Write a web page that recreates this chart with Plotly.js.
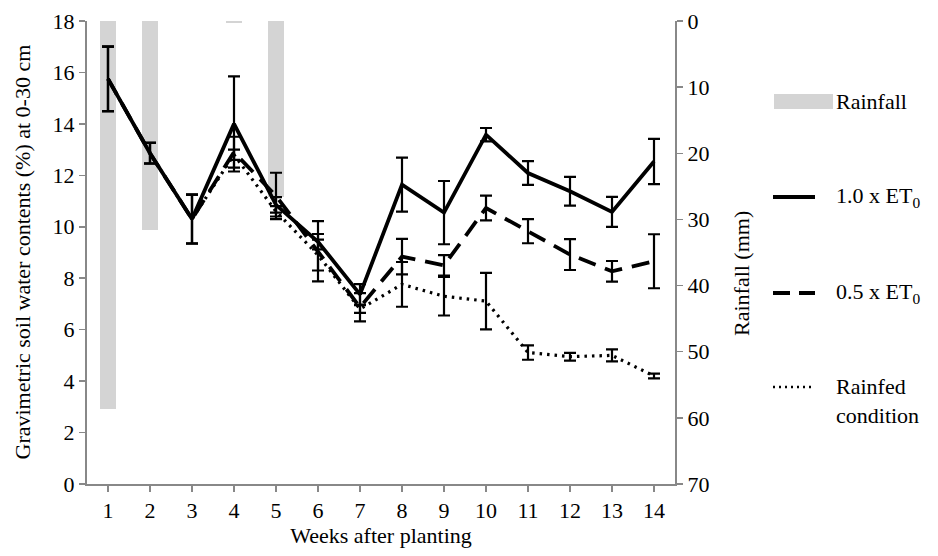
<!DOCTYPE html>
<html>
<head>
<meta charset="utf-8">
<script src="https://cdn.plot.ly/plotly-3.0.1.min.js"></script>
<style>html,body{margin:0;padding:0;background:#fff;}#chart{width:938px;height:556px;}</style>
</head>
<body>
<div id="chart"></div>
<script>
var weeks = [1,2,3,4,5,6,7,8,9,10,11,12,13,14];
var rainfall = [58.6,31.6,0,0.3,26.6,0,0,0,0,0,0,0,0,0];
var et10 = [15.75,12.86,10.3,14.0,10.85,9.42,7.37,11.64,10.55,13.58,12.09,11.38,10.58,12.54];
var et10Err = [1.25,0.4,0.95,1.85,0.3,0.3,0.4,1.05,1.23,0.26,0.46,0.56,0.58,0.88];
var et05 = [15.75,12.86,10.3,12.9,11.2,9.05,6.87,8.84,8.5,10.73,9.83,8.92,8.27,8.66];
var et05Err = [1.25,0.4,0.95,0.6,0.9,1.17,0.55,0.69,0.4,0.48,0.47,0.6,0.4,1.05];
var rainfed = [15.75,12.86,10.3,12.8,10.6,8.9,6.8,7.76,7.3,7.11,5.11,4.95,5.0,4.2];
var rainfedErr = [1.25,0.4,0.95,0.2,0.2,0.6,0.15,0.87,0.75,1.1,0.28,0.15,0.23,0.09];
var legendLabels = ['Rainfall','1.0 x ET<sub>0</sub>','0.5 x ET<sub>0</sub>','Rainfed<br>condition'];

var traces = [
  {type:'bar', x:weeks, y:rainfall, base:0, width:0.38, yaxis:'y', marker:{color:'#d4d4d4'}, showlegend:false, hoverinfo:'skip'},
  {type:'scatter', mode:'lines', x:weeks, y:rainfed, yaxis:'y2', line:{color:'#000',width:3.2,dash:'2.5px,5px'},
   error_y:{type:'data',array:rainfedErr,visible:true,color:'#000',thickness:2.2,width:6}, showlegend:false},
  {type:'scatter', mode:'lines', x:weeks, y:et05, yaxis:'y2', line:{color:'#000',width:3.8,dash:'18px,10px'},
   error_y:{type:'data',array:et05Err,visible:true,color:'#000',thickness:2.2,width:6}, showlegend:false},
  {type:'scatter', mode:'lines', x:weeks, y:et10, yaxis:'y2', line:{color:'#000',width:3.8},
   error_y:{type:'data',array:et10Err,visible:true,color:'#000',thickness:2.2,width:6}, showlegend:false}
];

var L = 87, R = 675, T = 21, B = 484;
function px(x){return (x-L)/(R-L);}
function py(y){return (B-y)/(B-T);}

var shapes = [
  {type:'rect', xref:'paper', yref:'paper', x0:px(774), x1:px(833), y0:py(94), y1:py(109), fillcolor:'#d4d4d4', line:{width:0}},
  {type:'line', xref:'paper', yref:'paper', x0:px(773), x1:px(815), y0:py(197), y1:py(197), line:{color:'#000',width:3.8}},
  {type:'line', xref:'paper', yref:'paper', x0:px(773), x1:px(815), y0:py(293), y1:py(293), line:{color:'#000',width:3.8,dash:'17px,9px'}},
  {type:'line', xref:'paper', yref:'paper', x0:px(773), x1:px(815), y0:py(387), y1:py(387), line:{color:'#000',width:2.4,dash:'2px,4px'}}
];
var legendY = [101,197,293,401];
var annotations = [];
for (var i=0;i<legendLabels.length;i++){
  annotations.push({xref:'paper', yref:'paper', x:px(834), y:py(legendY[i]), xanchor:'left', yanchor:'middle', align:'left', showarrow:false, text:legendLabels[i], font:{family:'Liberation Serif',size:22}});
}
annotations.push({xref:'paper', yref:'paper', x:0, xshift:-(L-22), y:0.5, xanchor:'center', yanchor:'middle', textangle:-90, showarrow:false, text:'Gravimetric soil water contents (%) at 0-30 cm', font:{family:'Liberation Serif',size:22}});
annotations.push({xref:'paper', yref:'paper', x:1, xshift:741-R, y:py(274), xanchor:'center', yanchor:'middle', textangle:-90, showarrow:false, text:'Rainfall (mm)', font:{family:'Liberation Serif',size:22}});

var layout = {
  width:938, height:556,
  margin:{l:L, r:938-R, t:T, b:556-B},
  paper_bgcolor:'#fff', plot_bgcolor:'#fff',
  showlegend:false,
  xaxis:{range:[0.5,14.5], tickmode:'array', tickvals:weeks, ticktext:weeks.map(String), showgrid:false, zeroline:false,
         showline:true, linecolor:'#888', linewidth:2, ticks:'outside', ticklen:6, tickcolor:'#888', tickwidth:1.5,
         tickfont:{family:'Liberation Serif',size:22,color:'#000'},
         title:{text:'Weeks after planting', font:{family:'Liberation Serif',size:22,color:'#000'}, standoff:2}},
  yaxis:{side:'right', range:[70,0], dtick:10, showgrid:false, zeroline:false, showline:true, linecolor:'#888', linewidth:2,
         ticks:'outside', ticklen:6, tickcolor:'#888', tickwidth:1.5, tickfont:{family:'Liberation Serif',size:22,color:'#000'}},
  yaxis2:{overlaying:'y', side:'left', range:[0,18], dtick:2, showgrid:false, zeroline:false, showline:true, linecolor:'#888', linewidth:2,
         ticks:'outside', ticklen:6, tickcolor:'#888', tickwidth:1.5, tickfont:{family:'Liberation Serif',size:22,color:'#000'}},
  shapes:shapes,
  annotations:annotations,
  bargap:0
};
Plotly.newPlot('chart', traces, layout, {staticPlot:true}).then(function(){
  var nodes = document.querySelectorAll('#chart text');
  for (var k=0;k<nodes.length;k++){
    nodes[k].style.setProperty('font-family', "'Liberation Serif', serif", 'important');
    nodes[k].style.setProperty('fill', '#000');
  }
});
</script>
</body>
</html>
